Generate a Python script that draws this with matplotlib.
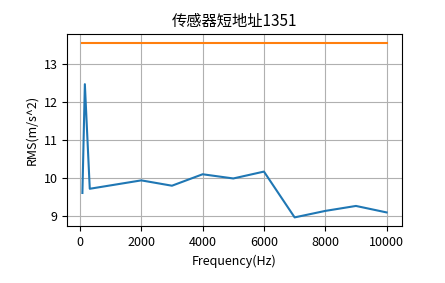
import matplotlib
matplotlib.use('Agg')
import matplotlib.pyplot as plt

plt.rcParams['font.family'] = ['Noto Sans CJK SC', 'DejaVu Sans']
plt.rcParams['axes.unicode_minus'] = False

# readings
freq = [80, 160, 320, 2000, 3000, 4000, 5000, 6000, 7000, 8000, 9000, 10000]
rms = [9.61, 12.46, 9.72, 9.94, 9.80, 10.10, 9.99, 10.17, 8.97, 9.14, 9.27, 9.10]
limit = [13.54] * len(freq)

fig = plt.figure(figsize=(4.45, 2.83), dpi=100)
ax = fig.add_axes([0.151, 0.201, 0.752, 0.678])
ax.plot(freq, rms)
ax.plot(freq, limit)
ax.set_title('传感器短地址1351', fontsize=11)
ax.set_xlabel('Frequency(Hz)', fontsize=9)
ax.set_ylabel('RMS(m/s^2)', fontsize=9)
ax.tick_params(labelsize=9)
ax.grid()
fig.savefig('out.png', dpi=100)
